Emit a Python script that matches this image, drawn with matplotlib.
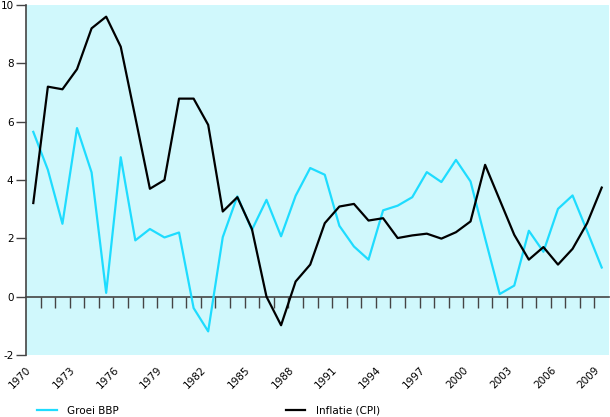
import numpy as np
import matplotlib
matplotlib.use("Agg")
import matplotlib.pyplot as plt
from matplotlib.ticker import FixedLocator

# Gegevens
years = list(range(1970, 2010))
groei_bbp = [5.65, 4.35, 2.5, 5.78, 4.26, 0.13, 4.78, 1.93, 2.32, 2.03,
             2.2, -0.39, -1.19, 2.04, 3.44, 2.29, 3.32, 2.07, 3.46, 4.41,
             4.18, 2.43, 1.72, 1.27, 2.96, 3.12, 3.41, 4.27, 3.93, 4.69,
             3.95, 2.0, 0.09, 0.38, 2.26, 1.54, 3.01, 3.47, 2.25, 1.0]
inflatie = [3.21, 7.2, 7.11, 7.8, 9.2, 9.6, 8.57, 6.15, 3.7, 4.0,
            6.79, 6.79, 5.89, 2.92, 3.41, 2.32, 0.0, -0.98, 0.52, 1.1,
            2.52, 3.09, 3.18, 2.61, 2.69, 2.01, 2.1, 2.16, 1.99, 2.21,
            2.58, 4.52, 3.32, 2.12, 1.27, 1.7, 1.1, 1.64, 2.52, 3.74]
label_years = years[::3]

plt.rcParams['font.family'] = ['DejaVu Sans']
plt.rcParams['axes.unicode_minus'] = False
fig = plt.figure(figsize=(6.10, 4.17), dpi=100)
ax = fig.add_axes([26 / 610, 62 / 417, 583 / 610, 350 / 417])
ax.set_facecolor('#d0f8fc')

x = np.arange(len(years))
l1, = ax.plot(x, groei_bbp, color='#1edcff', lw=1.6, label='Groei BBP', zorder=3)
l2, = ax.plot(x, inflatie, color='black', lw=1.6, label='Inflatie (CPI)', zorder=4)

ax.set_xlim(-0.5, len(years) - 0.5)
ax.set_ylim(-2, 10)
ax.set_yticks(range(-2, 11, 2))

# assen
for s in ['top', 'right']:
    ax.spines[s].set_visible(False)
ax.spines['left'].set_color('#444444')
ax.spines['left'].set_linewidth(1.2)
ax.spines['bottom'].set_position(('data', 0))
ax.spines['bottom'].set_color('#444444')
ax.spines['bottom'].set_linewidth(1.2)
ax.spines['bottom'].set_zorder(2)

ax.xaxis.set_major_locator(FixedLocator(x[:-1] + 0.5))
ax.tick_params(axis='x', length=8, width=1, color='#444444', labelbottom=False)
ax.tick_params(axis='y', length=7, width=1, color='#444444', pad=2, labelsize=7.5)

# jaartallen onderaan
sec = ax.secondary_xaxis(0.0)
sec.set_xticks([years.index(y) for y in label_years])
sec.set_xticklabels([str(y) for y in label_years], rotation=45, ha='right')
sec.tick_params(length=0, pad=7, labelsize=7.5)
sec.spines['bottom'].set_visible(False)

fig.legend(handles=[l1, l2], loc='center left', bbox_to_anchor=(37 / 610, 1 - 410.5 / 417),
           ncol=2, frameon=False, fontsize=7.5, handlelength=1.9, handletextpad=1.0,
           columnspacing=16.0, borderaxespad=0, borderpad=0)

plt.savefig('out.png', dpi=100)
